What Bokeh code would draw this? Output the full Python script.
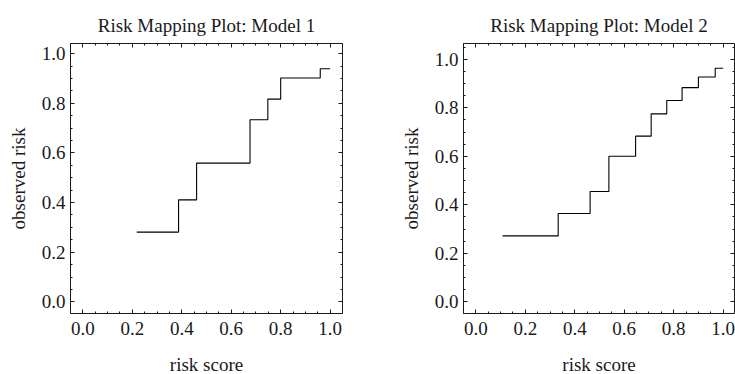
from bokeh.plotting import figure
from bokeh.models import Range1d, LinearAxis, FixedTicker, PrintfTickFormatter
from bokeh.layouts import row
from bokeh.embed import file_html
from bokeh.resources import INLINE

# ---- data ----
m1_score_edges = [0.218, 0.387, 0.460, 0.676, 0.748, 0.800, 0.960, 1.000]
m1_observed = [0.281, 0.411, 0.559, 0.734, 0.817, 0.902, 0.939]

m2_score_edges = [0.108, 0.333, 0.462, 0.538, 0.646, 0.709, 0.772, 0.834, 0.900, 0.968, 1.000]
m2_observed = [0.272, 0.364, 0.455, 0.600, 0.683, 0.775, 0.830, 0.883, 0.927, 0.963]

major_ticks = [0.0, 0.2, 0.4, 0.6, 0.8, 1.0]
minor_ticks = [-0.05, 0.0, 0.05, 0.1, 0.15, 0.2, 0.25, 0.3, 0.35, 0.4, 0.45, 0.5,
               0.55, 0.6, 0.65, 0.7, 0.75, 0.8, 0.85, 0.9, 0.95, 1.0, 1.05]

titles = ["Risk Mapping Plot: Model 1", "Risk Mapping Plot: Model 2"]
x_label = "risk score"
y_label = "observed risk"

FONT = "Liberation Serif"
FS = "19px"
INK = "#1a1a1a"


def style_axis(ax):
    ax.ticker = FixedTicker(ticks=major_ticks, minor_ticks=minor_ticks)
    ax.formatter = PrintfTickFormatter(format="%.1f")
    ax.axis_line_color = None
    ax.major_tick_in = 4
    ax.major_tick_out = 0
    ax.minor_tick_in = 2
    ax.minor_tick_out = 0
    ax.major_tick_line_color = INK
    ax.minor_tick_line_color = INK
    ax.major_label_text_font = FONT
    ax.major_label_text_font_size = FS
    ax.major_label_text_color = INK
    ax.axis_label_text_font = FONT
    ax.axis_label_text_font_size = FS
    ax.axis_label_text_font_style = "normal"
    ax.axis_label_text_color = INK


def mirror_axis(ticks, length):
    # tick marks only (frame ticks on the opposite side), no labels
    ax = LinearAxis(ticker=FixedTicker(ticks=[], minor_ticks=ticks))
    ax.axis_line_color = None
    ax.major_tick_in = 0
    ax.major_tick_out = 0
    ax.minor_tick_in = length
    ax.minor_tick_out = 0
    ax.minor_tick_line_color = INK
    ax.major_label_standoff = 0
    return ax


def make_fig(title, edges, observed, y_rng, frame_w, x_end, b_left, b_right):
    p = figure(frame_width=frame_w, frame_height=270,
               x_range=Range1d(-0.05, x_end), y_range=Range1d(*y_rng),
               output_backend="svg", toolbar_location=None,
               min_border_left=b_left, min_border_right=b_right,
               min_border_top=43, min_border_bottom=61)
    p.background_fill_color = "white"
    p.border_fill_color = "white"
    p.grid.visible = False
    p.outline_line_color = INK
    p.outline_line_width = 1

    p.title.text = title
    p.title.text_font = FONT
    p.title.text_font_size = FS
    p.title.text_font_style = "normal"
    p.title.text_color = INK
    p.title.align = "center"
    p.title.standoff = 16

    p.xaxis.axis_label = x_label
    p.yaxis.axis_label = y_label
    for ax in p.xaxis + p.yaxis:
        style_axis(ax)
    p.xaxis.major_label_standoff = 8
    p.xaxis.axis_label_standoff = 16
    p.yaxis.major_label_standoff = 5
    p.yaxis.axis_label_standoff = 10

    p.add_layout(mirror_axis(minor_ticks, 2), "above")
    p.add_layout(mirror_axis(major_ticks, 4), "above")
    p.add_layout(mirror_axis(minor_ticks, 2), "right")
    p.add_layout(mirror_axis(major_ticks, 4), "right")

    xs = list(edges)
    ys = list(observed) + [observed[-1]]
    p.step(xs, ys, mode="after", line_color="black", line_width=1.1)
    return p


p1 = make_fig(titles[0], m1_score_edges, m1_observed, (-0.047, 1.041), 272, 1.05, 70, 52)
p2 = make_fig(titles[1], m2_score_edges, m2_observed, (-0.048, 1.065), 271, 1.046, 69, 1)

layout = row(p1, p2)
open("out.html", "w").write(file_html(layout, INLINE))
